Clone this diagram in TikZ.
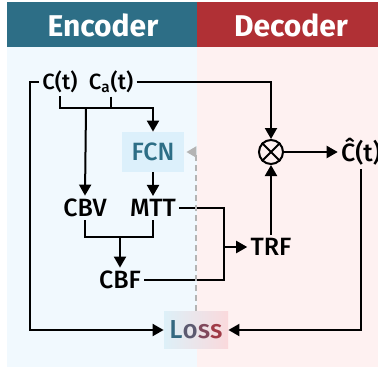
\documentclass[tikz,border=0pt]{standalone}
\usepackage{fontspec}
\setmainfont{Fira Sans}[UprightFont={* Medium},BoldFont={* Bold}]
\usepackage{tikz}
\usetikzlibrary{arrows.meta,positioning,calc}

\definecolor{enchead}{RGB}{45,110,134}
\definecolor{dechead}{RGB}{176,48,53}
\definecolor{encbody}{RGB}{241,249,254}
\definecolor{decbody}{RGB}{254,241,241}
\definecolor{fcnfill}{RGB}{220,240,251}
\definecolor{lossL}{RGB}{221,240,248}
\definecolor{lossR}{RGB}{250,217,220}
\definecolor{dashgray}{RGB}{180,180,180}

\begin{document}
\begin{tikzpicture}[
  x=0.5pt,y=-0.5pt,
  every node/.style={align=center,inner sep=1.5pt},
  lbl/.style={font=\fontsize{12.5}{14}\selectfont},
  inp/.style={font=\fontsize{11}{13}\selectfont},
  hdr/.style={font=\fontsize{15}{18}\selectfont\bfseries,text=white},
  fcnbox/.style={fill=fcnfill,text=enchead,minimum width=31pt,minimum height=20pt,
                 inner sep=0pt,font=\fontsize{12.5}{14}\selectfont},
  lossbox/.style={left color=lossL,right color=lossR,minimum width=32pt,
                  minimum height=18.5pt,inner sep=0pt,font=\fontsize{13}{15}\selectfont},
  arr/.style={-{Triangle[length=5.5pt,width=6pt]},line width=1pt},
  ln/.style={line width=1pt},
  dsh/.style={-{Triangle[length=5pt,width=5.5pt]},line width=1pt,dashgray,
              dash pattern=on 3pt off 2pt}
]
\useasboundingbox (0,0) rectangle (378,369);

% Panels.
\fill[encbody] (7,47) rectangle (197,367);
\fill[decbody] (197,47) rectangle (378,367);
\fill[enchead] (7,2) rectangle (197,47);
\fill[dechead] (197,2) rectangle (378,47);
\node[hdr] (enc) at (103,25) {Encoder};
\node[hdr] (dec) at (291,25) {Decoder};

% Inputs.
\node[inp] (ct)  at (60,82)  {C(t)};
\node[inp] (cat) at (111,82) {C\textsubscript{a}(t)};

% Encoder blocks.
\node[fcnbox] (fcn) at (153,152) {FCN};
\node[lbl] (cbv) at (85,208)  {CBV};
\node[lbl] (mtt) at (153,208) {MTT};
\node[lbl] (cbf) at (120,280) {CBF};

% Decoder blocks.
\node[lbl] (trf) at (271,247) {TRF};
\node[draw,circle,line width=1pt,minimum size=12pt,inner sep=0pt] (mul) at (271,152) {};
\draw[line width=1pt] (mul.north west) -- (mul.south east)
                      (mul.north east) -- (mul.south west);
\node[lbl] (chat) at (361,152) {\^{C}(t)};

% Loss.
\node[lossbox] (loss) at (196,330)
  {\textcolor[RGB]{52,104,128}{L}\textcolor[RGB]{92,90,112}{o}\textcolor[RGB]{128,72,92}{s}\textcolor[RGB]{160,58,70}{s}};

\coordinate (lft) at (30,82);
\coordinate (j1) at (86,108);
\coordinate (j2) at (120,237);
\coordinate (j3) at (224,247);

\draw[arr] (ct.west) -- (lft) |- (loss.west);
\draw[arr] (cat.east) -| (mul.north);
\draw[arr] (ct.south) |- (fcn.north |- j1) -- (fcn.north);
\draw[ln] (cat.south) -- (cat.south |- j1);
\draw[arr] (j1) -- (cbv.north);
\draw[arr] (fcn.south) -- (mtt.north);
\draw[ln] (cbv.south) |- (mtt.south |- j2) -- (mtt.south);
\draw[arr] (j2) -- (cbf.north);
\draw[ln] (mtt.east) -| (j3) |- (cbf.east);
\draw[arr] (j3) -- (trf.west);
\draw[arr] (trf.north) -- (mul.south);
\draw[arr] (mul.east) -- (chat.west);
\draw[arr] (chat.south) |- (loss.east);
\draw[dsh] (loss.north) -- (loss.north |- fcn.east) -- ([xshift=1pt]fcn.east);
\end{tikzpicture}
\end{document}
